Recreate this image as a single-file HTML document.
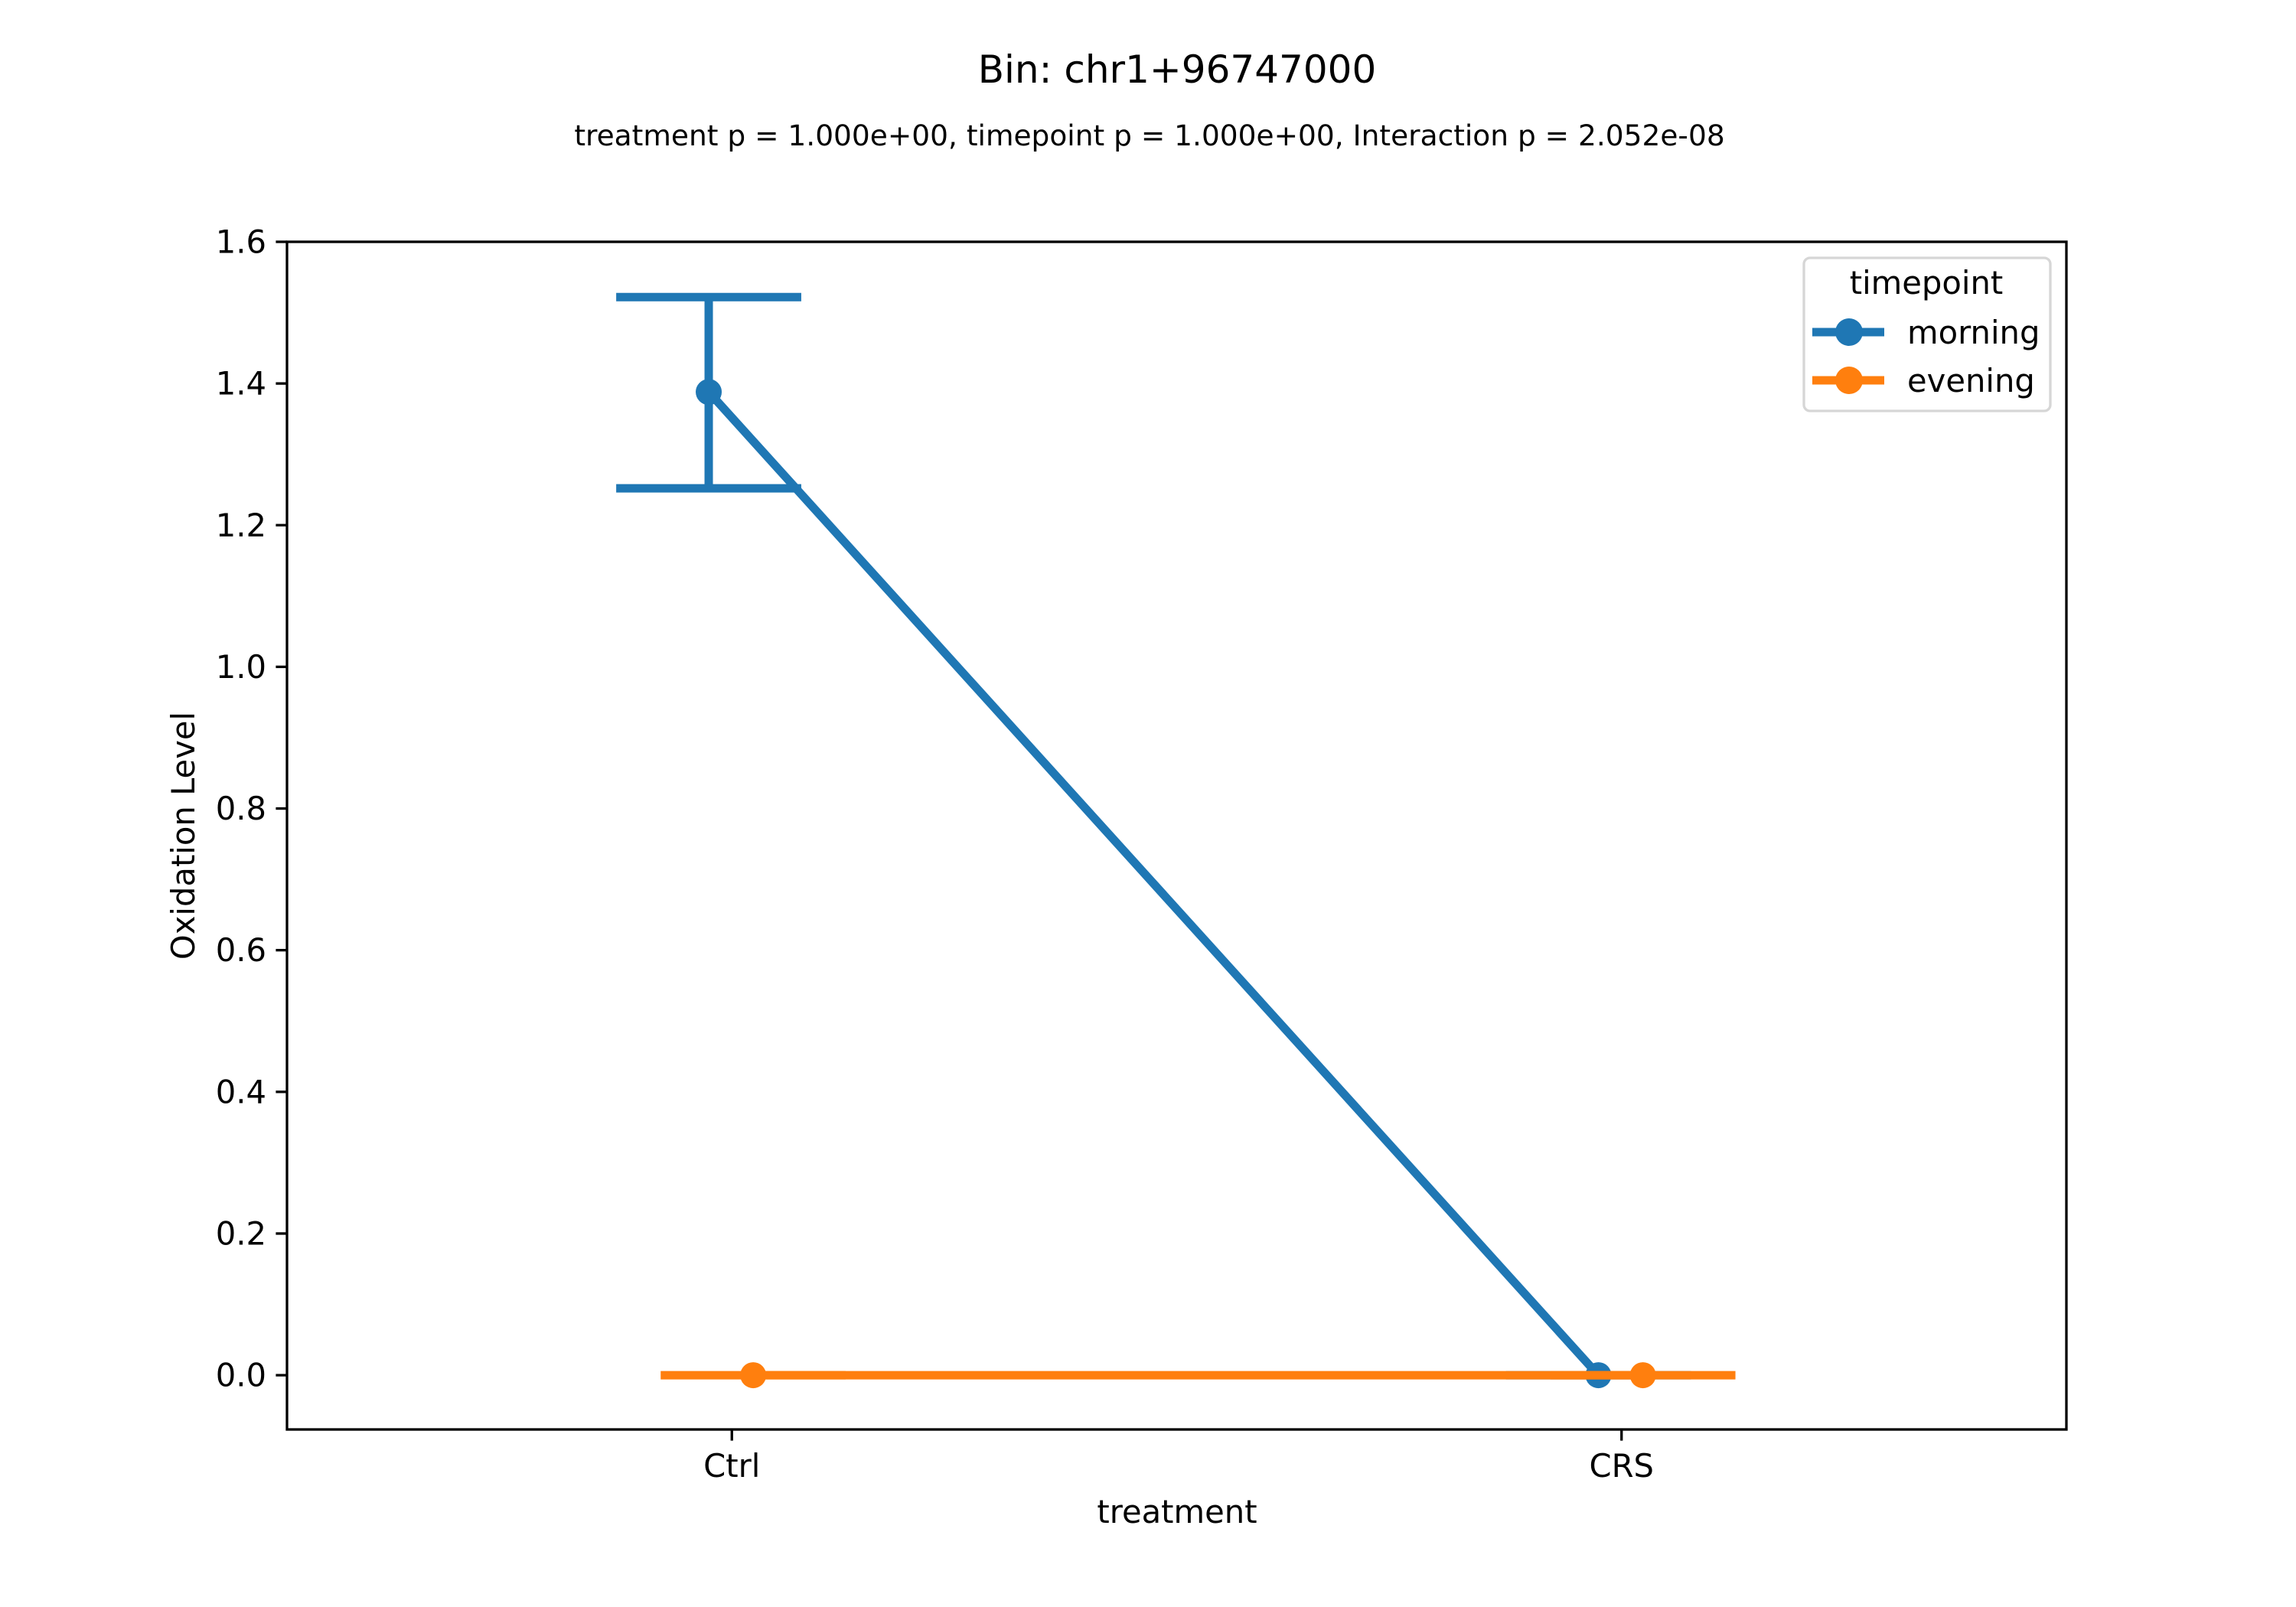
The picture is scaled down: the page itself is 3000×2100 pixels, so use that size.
<!DOCTYPE html>
<html><head><meta charset="utf-8"><style>
html,body{margin:0;padding:0;background:#fff}
svg{display:block;font-family:"DejaVu Sans","Liberation Sans",sans-serif}
</style></head><body>
<svg id="chart" width="3000" height="2100" viewBox="0 0 3000 2100" xmlns="http://www.w3.org/2000/svg">
<rect width="3000" height="2100" fill="#fff"/>
<text x="1538" y="108" font-size="50" text-anchor="middle">Bin: chr1+96747000</text>
<text x="1502" y="190" font-size="37.5" text-anchor="middle">treatment p = 1.000e+00, timepoint p = 1.000e+00, Interaction p = 2.052e-08</text>
<g id="plot"></g>
<text x="0" y="0" font-size="41.7" text-anchor="middle" transform="translate(254,1092) rotate(-90)">Oxidation Level</text>
<text x="1538" y="1990" font-size="41.7" text-anchor="middle">treatment</text>
<g>
<rect x="2357" y="337" width="322" height="200" rx="8" fill="#fff" fill-opacity="0.8" stroke="#d6d6d6" stroke-width="3.3"/>
<text x="2517" y="384" font-size="41.7" text-anchor="middle">timepoint</text>
<g>
<line x1="2368" y1="434" x2="2462" y2="434" stroke="#1f77b4" stroke-width="11"/>
<circle cx="2416" cy="434" r="18" fill="#1f77b4"/>
<text x="2492" y="449" font-size="41.7">morning</text></g>
<g>
<line x1="2368" y1="497" x2="2462" y2="497" stroke="#ff7f0e" stroke-width="11"/>
<circle cx="2416" cy="497" r="18" fill="#ff7f0e"/>
<text x="2492" y="512" font-size="41.7">evening</text></g>
</g>
</svg>
<script>
const categories = ["Ctrl", "CRS"];
const seriesNames = ["morning", "evening"];
const morningMean = [1.388, 0.0];
const morningLow = [1.252, 0.0];
const morningHigh = [1.522, 0.0];
const eveningMean = [0.0, 0.0];
const eveningLow = [0.0, 0.0];
const eveningHigh = [0.0, 0.0];
const yTicks = [0.0, 0.2, 0.4, 0.6, 0.8, 1.0, 1.2, 1.4, 1.6];

const NS = "http://www.w3.org/2000/svg";
const L = 375, R = 2700, T = 316, B = 1868;
const yMin = -0.0766, yMax = 1.6;
const xs = i => L + (i + 0.5) / 2 * (R - L);
const ys = v => B - (v - yMin) / (yMax - yMin) * (B - T);
const unit = (R - L) / 2;
const g = document.getElementById('plot');
function mk(tag, attrs, parent) {
  const e = document.createElementNS(NS, tag);
  for (const k in attrs) e.setAttribute(k, attrs[k]);
  (parent || g).appendChild(e);
  return e;
}
yTicks.forEach(v => {
  const y = ys(v);
  const t = mk('line', {x1: L - 14.6, x2: L, y1: y, y2: y, stroke: '#000', 'stroke-width': 3.3});
  
  
  const lb = mk('text', {x: L - 27, y: y + 14.5, 'font-size': 41.7, 'text-anchor': 'end'});
  lb.textContent = v.toFixed(1);
  
  
});
categories.forEach((c, i) => {
  const x = xs(i);
  const t = mk('line', {x1: x, x2: x, y1: B, y2: B + 14.6, stroke: '#000', 'stroke-width': 3.3});
  
  
  const lb = mk('text', {x: x, y: B + 62, 'font-size': 41.7, 'text-anchor': 'middle'});
  lb.textContent = c;
  
  
});
const clip = mk('clipPath', {id: 'cp'});
mk('rect', {x: L, y: T, width: R - L, height: B - T}, clip);
const series = [
  {name: 'morning', color: '#1f77b4', mean: morningMean, lo: morningLow, hi: morningHigh, off: -0.026},
  {name: 'evening', color: '#ff7f0e', mean: eveningMean, lo: eveningLow, hi: eveningHigh, off: 0.024}
];
const cap = 0.104 * unit;
series.forEach(s => {
  const sg = mk('g', {'clip-path': 'url(#cp)'});
  
  
  s.mean.forEach((m, i) => {
    const x = xs(i + s.off);
    const eb = mk('path', {d: `M${x - cap},${ys(s.hi[i])}H${x + cap}M${x},${ys(s.hi[i])}V${ys(s.lo[i])}M${x - cap},${ys(s.lo[i])}H${x + cap}`, stroke: s.color, 'stroke-width': 11, fill: 'none'}, sg);
    
    
  });
  const pts = s.mean.map((m, i) => xs(i + s.off) + ',' + ys(m)).join(' ');
  const pl = mk('polyline', {points: pts, stroke: s.color, 'stroke-width': 11, fill: 'none'}, sg);
  
  
  s.mean.forEach((m, i) => {
    const c = mk('circle', {cx: xs(i + s.off), cy: ys(m), r: 17, fill: s.color}, sg);
    
    
  });
});
const frame = mk('rect', {x: L, y: T, width: R - L, height: B - T, fill: 'none', stroke: '#000', 'stroke-width': 3.3});


</script>
</body></html>
